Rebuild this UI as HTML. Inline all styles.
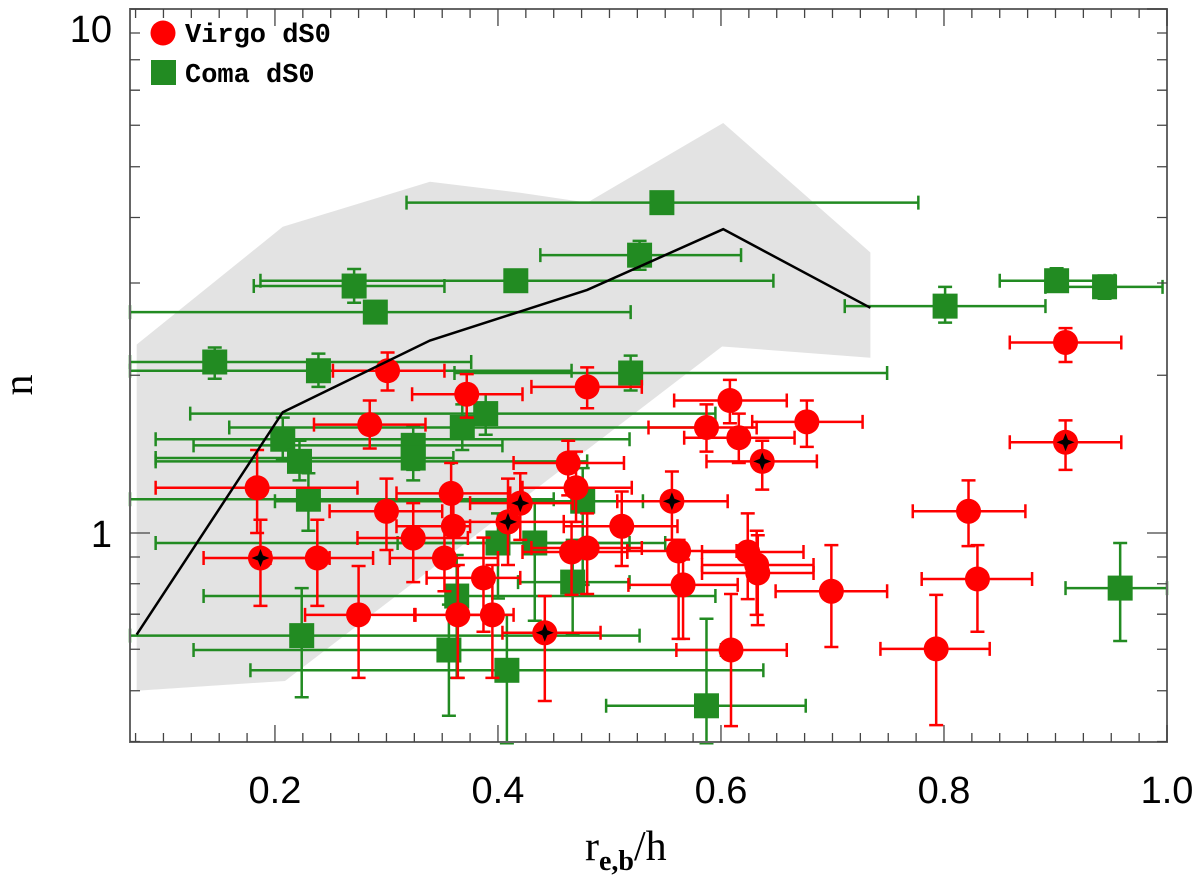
<!DOCTYPE html>
<html><head><meta charset="utf-8"><style>
body{margin:0;background:#fff}
#chart text{font-family:"Liberation Sans",sans-serif}
</style></head><body>
<svg id="chart" width="1200" height="875" xmlns="http://www.w3.org/2000/svg"></svg>
<script>
// ---- data ----
const virgoX   =[.301,.372,.285,.184,.187,.238,.275,.300,.358,.324,.360,.352,.387,.364,.395,.409,.420,.463,.470,.511,.556,.480,.466,.562,.566,.624,.632,.633,.699,.609,.442,.637,.480,.608,.587,.616,.677,.909,.909,.822,.830,.793];
const virgoY   =[2.04,1.84,1.61,1.22,.896,.896,.698,1.10,1.19,.978,1.03,.896,.821,.698,.698,1.05,1.14,1.36,1.22,1.03,1.15,.936,.920,.924,.796,.920,.869,.839,.774,.598,.645,1.37,1.90,1.79,1.59,1.52,1.63,2.31,1.49,1.10,.817,.601];
const virgoXlo =[.252,.323,.235,.093,.136,.196,.227,.249,.309,.274,.309,.303,.336,.325,.361,.361,.375,.414,.422,.459,.507,.430,.422,.516,.517,.583,.583,.583,.649,.560,.404,.587,.430,.558,.535,.567,.628,.859,.859,.772,.780,.743];
const virgoXhi =[.352,.422,.335,.274,.249,.288,.326,.350,.411,.373,.375,.400,.420,.400,.414,.459,.467,.513,.520,.561,.606,.529,.516,.614,.615,.674,.683,.683,.749,.659,.492,.686,.529,.659,.632,.666,.727,.959,.959,.873,.879,.841];
const virgoYlo =[1.87,1.66,1.45,1.00,.726,.726,.529,.928,1.04,.806,.865,.774,.648,.529,.529,.869,.970,1.18,1.05,.865,.970,.765,.762,.628,.628,.748,.698,.667,.606,.428,.478,1.21,1.73,1.62,1.43,1.36,1.46,2.12,1.32,.944,.648,.430];
const virgoYhi =[2.21,2.01,1.79,1.44,1.06,1.06,.865,1.27,1.36,1.14,1.20,1.03,.98,.869,.869,1.27,1.30,1.50,1.43,1.20,1.31,1.09,1.05,.970,.89,1.09,1.01,.99,.948,.765,.758,1.50,2.07,1.96,1.76,1.69,1.79,2.46,1.64,1.26,.948,.762];
const virgoStar=[0,0,0,0,1,0,0,0,0,0,0,0,0,0,0,1,1,0,0,0,1,0,0,0,0,0,0,0,0,0,1,1,0,0,0,0,0,0,1,0,0,0];

const comaX   =[.271,.416,.290,.146,.239,.519,.389,.368,.207,.222,.324,.324,.230,.224,.356,.408,.363,.467,.400,.433,.476,.587,.547,.527,.801,.901,.944,.958];
const comaY   =[2.96,3.03,2.64,2.12,2.04,2.02,1.69,1.59,1.51,1.37,1.47,1.39,1.16,.637,.598,.547,.758,.806,.957,.957,1.15,.468,4.27,3.39,2.71,3.03,2.95,.785];
const comaXlo =[.181,.187,.070,.070,.070,.361,.124,.159,.093,.093,.127,.093,.070,.070,.127,.178,.136,.418,.093,.310,.200,.497,.318,.438,.711,.850,.891,.909];
const comaXhi =[.352,.647,.519,.376,.466,.749,.595,.595,.518,.480,.404,.360,.450,.527,.600,.638,.595,.518,.518,.550,.530,.676,.777,.618,.891,.953,.996,1.00];
const comaYlo =[2.75,2.91,2.52,1.97,1.90,1.87,1.54,1.44,1.38,1.26,1.32,1.26,1.01,.486,.448,.397,.529,.640,.75,.68,.796,.397,4.14,3.18,2.52,2.91,2.80,.622];
const comaYhi =[3.19,3.18,2.75,2.26,2.20,2.18,1.84,1.76,1.66,1.50,1.60,1.52,1.30,.785,.73,.698,.908,.970,1.09,1.16,1.33,.686,4.35,3.61,2.95,3.20,3.10,.957];

const lineX=[.076,.207,.339,.480,.602,.734];
const lineY=[.640,1.70,2.33,2.91,3.80,2.69];
const bandX=[.076,.207,.339,.420,.480,.602,.734,.734,.601,.209,.076];
const bandY=[2.29,3.84,4.68,4.46,4.27,6.06,3.43,2.16,2.27,.522,.500];

const xTicks=[0.2,0.4,0.6,0.8,1.0];
const xTickLabels=["0.2","0.4","0.6","0.8","1.0"];
const yTicks=[1,10];
const yTickLabels=["1","10"];

// ---- axes ----
const L=130,R=1167,T=9,B=742;
const X0=0.07,X1=1.0;
const sx=v=>L+(v-X0)/(X1-X0)*(R-L);
const sy=v=>T+(1-Math.log10(v))*524;
const svg=document.getElementById('chart');
const NS='http://www.w3.org/2000/svg';
function mk(tag,attrs,parent){const e=document.createElementNS(NS,tag);for(const k in attrs)e.setAttribute(k,attrs[k]);(parent||svg).appendChild(e);return e;}

const band=mk('polygon',{points:bandX.map((x,i)=>sx(x)+','+sy(bandY[i])).join(' '),fill:'#e3e3e3'});



function errbars(g,xs,ys,xlo,xhi,ylo,yhi,col){
  for(let i=0;i<xs.length;i++){
    const cx=sx(xs[i]),cy=sy(ys[i]);
    const a=sx(xlo[i]),b=sx(xhi[i]),c=sy(yhi[i]),d=sy(ylo[i]);
    const p=`M${a},${cy}H${b}M${a},${cy-7}V${cy+7}M${b},${cy-7}V${cy+7}M${cx},${c}V${d}M${cx-7},${c}H${cx+7}M${cx-7},${d}H${cx+7}`;
    const e=mk('path',{d:p,stroke:col,'stroke-width':2.5,fill:'none'},g);
    
    
  }
}
const gG=mk('g',{});


const gR=mk('g',{});


errbars(gG,comaX,comaY,comaXlo,comaXhi,comaYlo,comaYhi,'#228b22');
errbars(gR,virgoX,virgoY,virgoXlo,virgoXhi,virgoYlo,virgoYhi,'#ff0000');
for(let i=0;i<comaX.length;i++){
  const s=mk('rect',{x:sx(comaX[i])-12.5,y:sy(comaY[i])-12.5,width:25,height:25,fill:'#228b22'},gG);
  
  
}
for(let i=0;i<virgoX.length;i++){
  const cx=sx(virgoX[i]),cy=sy(virgoY[i]);
  const c=mk('circle',{cx:cx,cy:cy,r:12.5,fill:'#ff0000'},gR);
  
  
  if(virgoStar[i]){
    const st=mk('path',{d:`M${cx},${cy-9}L${cx+2.5},${cy-2.5}L${cx+9},${cy}L${cx+2.5},${cy+2.5}L${cx},${cy+9}L${cx-2.5},${cy+2.5}L${cx-9},${cy}L${cx-2.5},${cy-2.5}Z`,fill:'#000'},gR);
    
    
  }
}
const ln=mk('polyline',{points:lineX.map((x,i)=>sx(x)+','+sy(lineY[i])).join(' '),fill:'none',stroke:'#000','stroke-width':2.5});



const fr=mk('rect',{x:L,y:T,width:R-L,height:B-T,fill:'none',stroke:'#666','stroke-width':2});


let tp='';
for(let v=0.075;v<=1.0001;v+=0.025){const x=sx(v);const maj=Math.abs(v*5-Math.round(v*5))<1e-6;const len=maj?17:9;tp+=`M${x},${B}V${B-len}M${x},${T}V${T+len}`;}
[0.4,0.5,0.6,0.7,0.8,0.9,1,2,3,4,5,6,7,8,9,10].forEach(v=>{const y=sy(v);const maj=(v===1||v===10);const len=maj?20:10;tp+=`M${L},${y}H${L+len}M${R},${y}H${R-len}`;});
const tk=mk('path',{d:tp,stroke:'#444','stroke-width':1.3,fill:'none'});



xTicks.forEach((v,i)=>{
  const t=mk('text',{x:sx(v),y:803,'text-anchor':'middle','font-size':38,fill:'#000'});
  t.textContent=xTickLabels[i];
  
  
});
yTicks.forEach((v,i)=>{
  const t=mk('text',{x:112,y:v===10?42:sy(v)+14,'text-anchor':'end','font-size':38,fill:'#000'});
  t.textContent=yTickLabels[i];
  
  
});
</script>
<svg style="position:absolute;left:0;top:0" width="1200" height="875">
  <text x="585" y="860" style="font-family:'Liberation Serif',serif;font-size:42px">r<tspan style="font-size:28px;font-weight:bold" dy="10">e,b</tspan><tspan dy="-10">/h</tspan></text>
  <text transform="translate(32,385) rotate(-90)" text-anchor="middle" style="font-family:'Liberation Serif',serif;font-size:42px">n</text>
  <g>
    <circle cx="163" cy="33" r="12.5" fill="#ff0000"/>
    <text x="185" y="42" style="font-family:'Liberation Mono',monospace;font-weight:bold;font-size:27px">Virgo dS0</text>
    <rect x="151" y="60" width="25" height="25" fill="#228b22"/>
    <text x="185" y="82" style="font-family:'Liberation Mono',monospace;font-weight:bold;font-size:27px">Coma dS0</text>
  </g>
</svg>
</body></html>
